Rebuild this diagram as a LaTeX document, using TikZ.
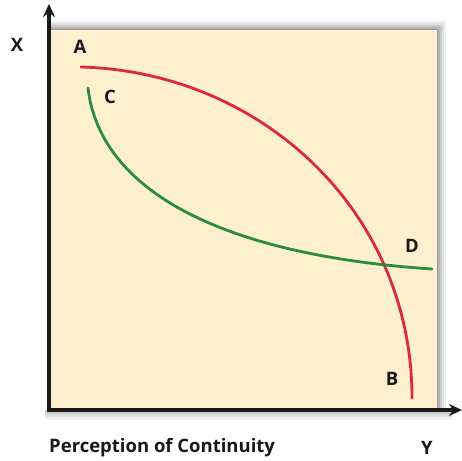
\documentclass[tikz,border=0pt]{standalone}
\usepackage{fontspec}
\setmainfont{Open Sans}
\usetikzlibrary{arrows.meta}
\definecolor{panelbg}{RGB}{252,240,206}
\definecolor{curvered}{RGB}{222,40,60}
\definecolor{curvegreen}{RGB}{45,140,55}
\definecolor{axisblack}{RGB}{25,25,25}
\begin{document}
\begin{tikzpicture}[x=1pt,y=-1pt,
  lbl/.style={font=\fontsize{18.5}{19}\selectfont\bfseries, text=axisblack, inner sep=0pt},
  axisline/.style={line width=4pt, draw=axisblack, -{Stealth[length=13pt,width=12pt]}},
  curve/.style={line width=2.8pt, line cap=round}]
\useasboundingbox (0,0) rectangle (462,460);
\fill[white] (0,0) rectangle (462,460);
% shadow
\foreach \o/\a in {9/0.05,7/0.07,5/0.09,3/0.11,1/0.13}{
  \fill[black, opacity=\a] (50,30-\o) rectangle (437+\o,409);
}
\foreach \o/\a in {8/0.05,5/0.07,2/0.09}{
  \fill[black, opacity=\a] (45,410) rectangle (452,412+\o);
}
\fill[panelbg] (50,30) rectangle (437,409);
% curves
\coordinate (a0) at (81,67);
\coordinate (b0) at (412,398);
\coordinate (c0) at (88,88);
\coordinate (d0) at (432,269);
\draw[curve, curvered] (a0) .. controls (262,72) and (412,212) .. (b0);
\draw[curve, curvegreen] (c0) .. controls (100,190) and (220,255) .. (d0);
% axes
\coordinate (o) at (49,410);
\coordinate (ytop) at (49,4);
\coordinate (xend) at (462,410);
\draw[axisline] ([yshift=-2pt]o) -- (ytop);
\draw[axisline] ([xshift=-2pt]o) -- (xend);
% labels
\node[lbl] (lx) at (17,45) {X};
\node[lbl] (la) at (80,47) {A};
\node[lbl] (lc) at (110,97) {C};
\node[lbl] (ld) at (412,246) {D};
\node[lbl] (lb) at (392,379) {B};
\node[lbl, anchor=west] (lp) at (49,448) {Perception of Continuity};
\node[lbl] (ly) at (427,448) {Y};
\end{tikzpicture}
\end{document}
